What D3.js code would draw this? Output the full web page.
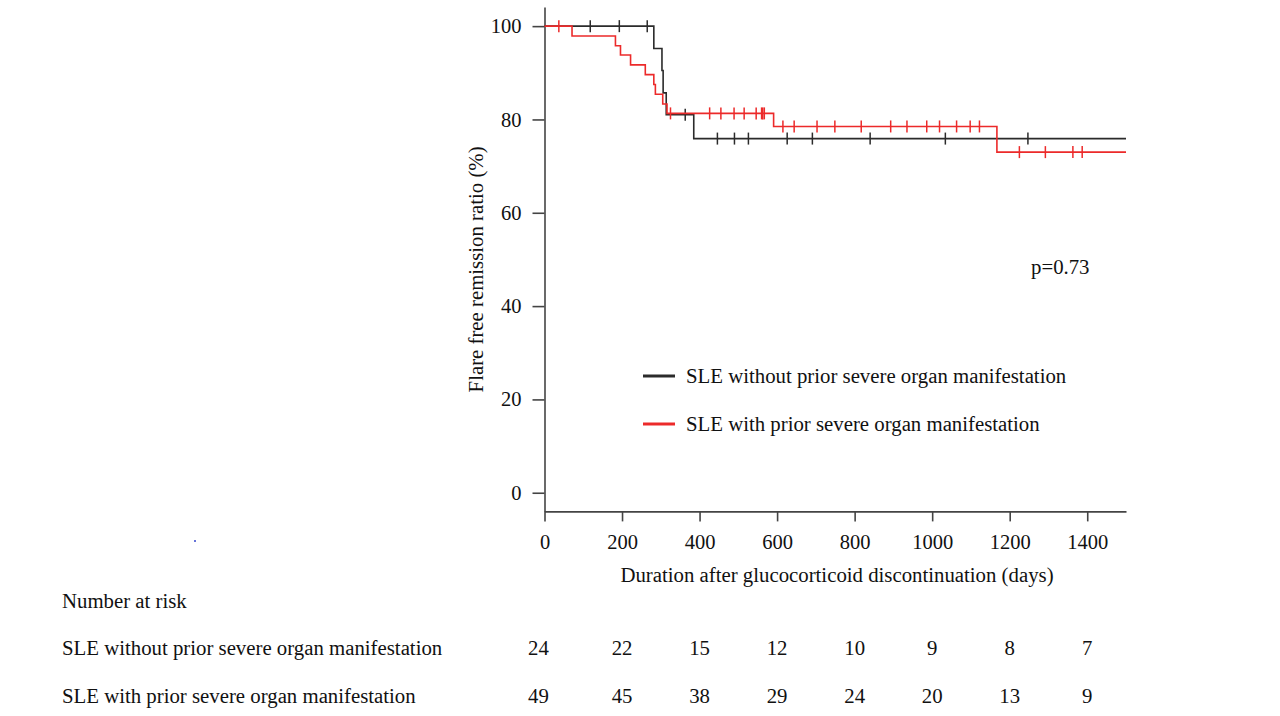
<!DOCTYPE html>
<html lang="en">
<head>
  <meta charset="UTF-8">
  <title>Flare free remission</title>
  <script src="https://d3js.org/d3.v7.min.js"></script>
  <style>
    body { margin: 0; background: #fff; }
    svg { font-family: "Liberation Serif", "Times New Roman", serif; }
    .axis text { font-size: 20.5px; fill: #111; font-family: "Liberation Serif", serif; }
    .axis path, .axis line { stroke: #444; stroke-width: 1.6px; }
    .lbl { font-size: 20.8px; fill: #111; }
  </style>
</head>
<body>
  <svg width="1280" height="716"></svg>
  <script>
    const xTicks = [0, 200, 400, 600, 800, 1000, 1200, 1400];
    const yTicks = [0, 20, 40, 60, 80, 100];
    const groups = ['SLE without prior severe organ manifestation', 'SLE with prior severe organ manifestation'];
    const colors = ['#2b2b2b', '#ec2a2a'];

    // step curves (days, %)
    const noSevereTimes = [0, 282, 303, 306, 314, 385, 1500];
    const noSevereSurv = [100, 95.2, 90.5, 85.7, 81.0, 75.9, 75.9];
    const noSevereCensor = [118, 193, 265, 363, 446, 490, 526, 626, 691, 840, 1034, 1247];

    const severeTimes = [0, 71, 183, 196, 222, 260, 282, 286, 305, 316, 591, 1167, 1500];
    const severeSurv = [100, 97.9, 95.8, 93.8, 91.7, 89.6, 87.5, 85.4, 83.3, 81.3, 78.5, 73.0, 73.0];
    const severeCensor = [37, 325, 426, 455, 489, 515, 546, 560, 563, 567, 615, 644, 703, 749, 817, 893, 935, 986, 1019, 1063, 1098, 1122, 1225, 1292, 1363, 1387];

    const riskNoSevere = [24, 22, 15, 12, 10, 9, 8, 7];
    const riskSevere = [49, 45, 38, 29, 24, 20, 13, 9];

    const svg = d3.select('svg');

    const x = d3.scaleLinear().domain([0, 1500]).range([544.5, 1126]);
    const y = d3.scaleLinear().domain([-4, 104.1]).range([511.4, 7]);

    svg.append('g')
      .attr('class', 'axis')
      .attr('transform', `translate(0,${y(-4)})`)
      .call(d3.axisBottom(x).tickValues(xTicks).tickFormat(d3.format('d'))
        .tickSizeInner(10).tickSizeOuter(0).tickPadding(13));

    svg.append('g')
      .attr('class', 'axis')
      .attr('transform', `translate(${x(0)},0)`)
      .call(d3.axisLeft(y).tickValues(yTicks).tickSizeInner(12).tickSizeOuter(0).tickPadding(11));

    const series = [
      { t: noSevereTimes, s: noSevereSurv, c: noSevereCensor },
      { t: severeTimes, s: severeSurv, c: severeCensor }
    ];

    const line = d3.line()
      .x(d => x(d[0]))
      .y(d => y(d[1]))
      .curve(d3.curveStepAfter);

    // survival at time t
    function survAt(sr, t) {
      let v = sr.s[0];
      sr.t.forEach((tt, i) => { if (tt <= t) v = sr.s[i]; });
      return v;
    }

    series.forEach((sr, k) => {
      svg.append('path')
        .attr('d', line(sr.t.map((t, i) => [t, sr.s[i]])))
        .attr('fill', 'none')
        .attr('stroke', colors[k])
        .attr('stroke-width', 1.6);

      svg.selectAll(null)
        .data(sr.c)
        .enter()
        .append('line')
        .attr('x1', d => x(d))
        .attr('x2', d => x(d))
        .attr('y1', d => y(survAt(sr, d)) - 6)
        .attr('y2', d => y(survAt(sr, d)) + 6)
        .attr('stroke', colors[k])
        .attr('stroke-width', 1.5);
    });

    svg.append('text')
      .attr('class', 'lbl')
      .attr('transform', `translate(483,${y(50) + 10}) rotate(-90)`)
      .attr('text-anchor', 'middle')
      .text('Flare free remission ratio (%)');

    svg.append('text')
      .attr('class', 'lbl')
      .attr('x', 837)
      .attr('y', 582)
      .attr('text-anchor', 'middle')
      .text('Duration after glucocorticoid discontinuation (days)');

    svg.append('text')
      .attr('class', 'lbl')
      .attr('x', 1031)
      .attr('y', 274)
      .text('p=0.73');

    // legend
    groups.forEach((g, k) => {
      const ly = 376 + k * 48;
      svg.append('line')
        .attr('x1', 643).attr('x2', 675)
        .attr('y1', ly).attr('y2', ly)
        .attr('stroke', colors[k])
        .attr('stroke-width', 3);
      svg.append('text')
        .attr('class', 'lbl')
        .attr('x', 686)
        .attr('y', ly + 7)
        .text(g);
    });

    // number at risk
    svg.append('text')
      .attr('class', 'lbl')
      .attr('x', 62)
      .attr('y', 608)
      .text('Number at risk');

    [riskNoSevere, riskSevere].forEach((row, k) => {
      const ry = 655 + k * 48;
      svg.append('text')
        .attr('class', 'lbl')
        .attr('x', 62)
        .attr('y', ry)
        .text(groups[k]);
      svg.selectAll(null)
        .data(row)
        .enter()
        .append('text')
        .attr('class', 'lbl')
        .attr('x', (d, i) => x(xTicks[i]) - (i === 0 ? 6 : 0))
        .attr('y', ry)
        .attr('text-anchor', 'middle')
        .text(d => d);
    });

    // stray dot in the original
    svg.append('circle')
      .attr('cx', 195).attr('cy', 541).attr('r', 1)
      .attr('fill', '#3344cc');
  </script>
</body>
</html>
